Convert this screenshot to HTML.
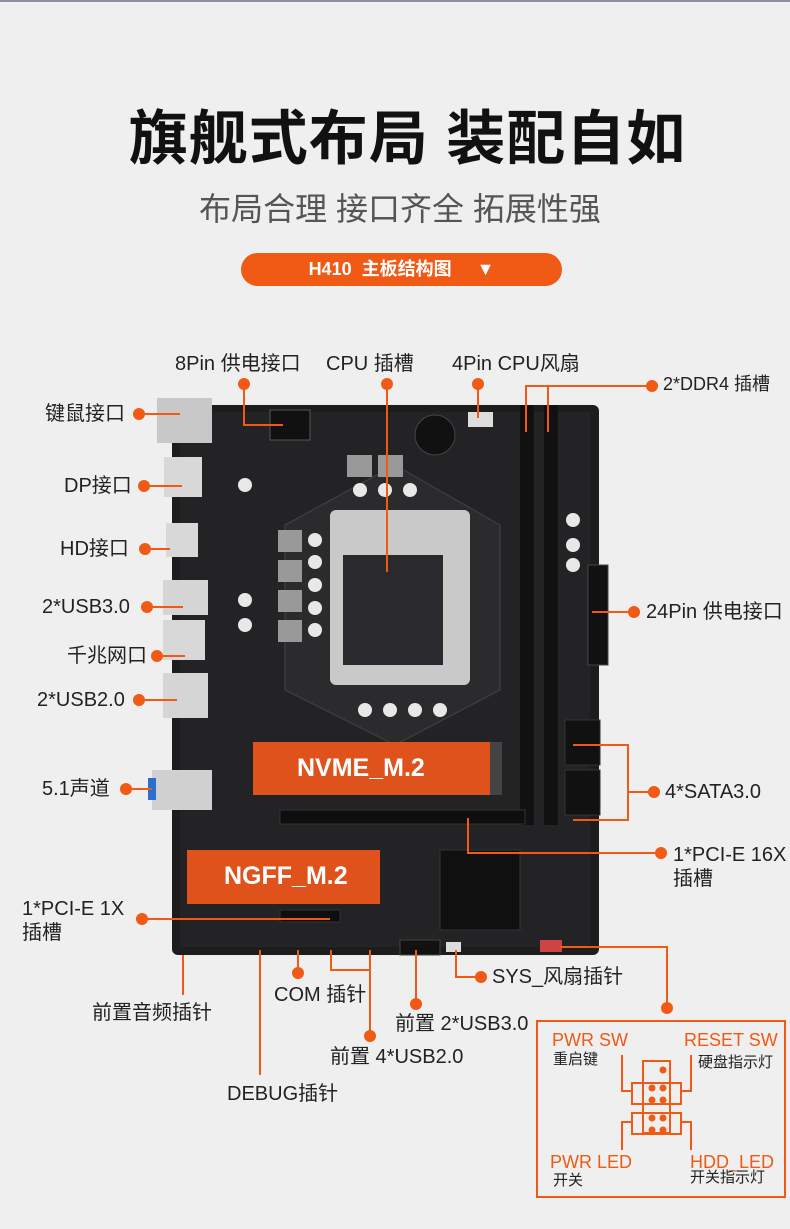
<!DOCTYPE html>
<html><head><meta charset="utf-8"><style>
body{margin:0;width:790px;height:1229px;background:#efefef;overflow:hidden;position:relative;font-family:"Liberation Sans","Noto Sans CJK SC",sans-serif}
.t{position:absolute;white-space:nowrap;color:#222;font-size:20px;line-height:1}
</style></head><body>
<div style="position:absolute;left:0;top:0;width:790px;height:2px;background:#8a90a0"></div>
<div class="t" style="left:0;width:815px;text-align:center;top:110px;font-size:59px;font-weight:bold;color:#111;letter-spacing:1px">旗舰式布局 装配自如</div>
<div class="t" style="left:0;width:800px;text-align:center;top:193px;font-size:32px;color:#555">布局合理 接口齐全 拓展性强</div>
<div style="position:absolute;left:241px;top:253px;width:321px;height:33px;border-radius:17px;background:#f05a14;color:#fff;font-size:18px;line-height:33px;text-align:center;font-weight:bold">H410&nbsp; 主板结构图 &nbsp;&nbsp;&nbsp;&nbsp;▼</div>

<svg width="790" height="1229" style="position:absolute;left:0;top:0">
<rect x="172" y="405" width="427" height="550" rx="6" fill="#1d1d1e"/>
<rect x="180" y="412" width="410" height="535" fill="#232325"/>
<polygon points="395,465 500,525 500,690 395,745 285,690 285,525" fill="#2b2b2d" stroke="#444" />
<rect x="157" y="398" width="55" height="45" fill="#c8c8c8"/>
<rect x="164" y="457" width="38" height="40" fill="#d8d8d8"/>
<rect x="166" y="523" width="32" height="34" fill="#d8d8d8"/>
<rect x="163" y="580" width="45" height="35" fill="#d5d5d5"/>
<rect x="163" y="620" width="42" height="40" fill="#d8d8d8"/>
<rect x="163" y="673" width="45" height="45" fill="#d5d5d5"/>
<rect x="152" y="770" width="60" height="40" fill="#d0d0d0"/>
<rect x="148" y="778" width="8" height="22" fill="#2a6fd0"/>
<rect x="270" y="410" width="40" height="30" fill="#111" stroke="#555"/>
<rect x="468" y="412" width="25" height="15" fill="#ddd"/>
<circle cx="435" cy="435" r="20" fill="#111" stroke="#444"/>
<rect x="347" y="455" width="25" height="22" fill="#999"/><rect x="378" y="455" width="25" height="22" fill="#999"/>
<rect x="278" y="530" width="24" height="22" fill="#999"/><rect x="278" y="560" width="24" height="22" fill="#999"/>
<rect x="278" y="590" width="24" height="22" fill="#999"/><rect x="278" y="620" width="24" height="22" fill="#999"/>
<g fill="#e8e8e8"><circle cx="315" cy="540" r="7"/><circle cx="315" cy="562" r="7"/><circle cx="315" cy="585" r="7"/><circle cx="315" cy="608" r="7"/><circle cx="315" cy="630" r="7"/><circle cx="360" cy="490" r="7"/><circle cx="385" cy="490" r="7"/><circle cx="410" cy="490" r="7"/><circle cx="365" cy="710" r="7"/><circle cx="390" cy="710" r="7"/><circle cx="415" cy="710" r="7"/><circle cx="440" cy="710" r="7"/><circle cx="573" cy="520" r="7"/><circle cx="573" cy="545" r="7"/><circle cx="573" cy="565" r="7"/><circle cx="245" cy="485" r="7"/><circle cx="245" cy="600" r="7"/><circle cx="245" cy="625" r="7"/></g>
<rect x="330" y="510" width="140" height="175" rx="6" fill="#c9c9c9"/>
<rect x="343" y="555" width="100" height="110" fill="#2a2a2e"/>
<rect x="520" y="405" width="14" height="420" fill="#111"/><rect x="544" y="405" width="14" height="420" fill="#111"/>
<rect x="588" y="565" width="20" height="100" fill="#111" stroke="#444"/>
<rect x="565" y="720" width="35" height="45" fill="#111" stroke="#333"/><rect x="565" y="770" width="35" height="45" fill="#111" stroke="#333"/>
<rect x="253" y="742" width="237" height="53" fill="#e0521c"/>
<rect x="490" y="742" width="12" height="53" fill="#444"/>
<rect x="280" y="810" width="245" height="14" fill="#0e0e0e" stroke="#333"/>
<rect x="187" y="850" width="193" height="54" fill="#e0521c"/>
<rect x="440" y="850" width="80" height="80" fill="#101010" stroke="#333"/>
<rect x="280" y="910" width="60" height="12" fill="#0e0e0e" stroke="#333"/>
<rect x="400" y="940" width="40" height="15" fill="#111" stroke="#444"/>
<rect x="446" y="942" width="15" height="10" fill="#ddd"/>
<rect x="540" y="940" width="22" height="12" fill="#c44"/>

<g stroke="#f05a14" stroke-width="2" fill="none">
<polyline points="244,384 244,425 283,425"/>
<line x1="387" y1="384" x2="387" y2="572"/>
<line x1="478" y1="384" x2="478" y2="418"/>
<polyline points="652,386 526,386 526,432"/><line x1="548" y1="386" x2="548" y2="432"/>
<line x1="139" y1="414" x2="180" y2="414"/>
<line x1="144" y1="486" x2="182" y2="486"/>
<line x1="145" y1="549" x2="170" y2="549"/>
<line x1="147" y1="607" x2="183" y2="607"/>
<line x1="157" y1="656" x2="185" y2="656"/>
<line x1="139" y1="700" x2="177" y2="700"/>
<line x1="126" y1="789" x2="152" y2="789"/>
<line x1="592" y1="612" x2="634" y2="612"/>
<polyline points="573,745 628,745 628,820 573,820"/><line x1="628" y1="792" x2="654" y2="792"/>
<polyline points="468,818 468,853 661,853"/>
<line x1="142" y1="919" x2="330" y2="919"/>
<line x1="183" y1="955" x2="183" y2="995"/>
<line x1="298" y1="950" x2="298" y2="973"/>
<line x1="260" y1="950" x2="260" y2="1075"/>
<polyline points="331,950 331,970 370,970"/><line x1="370" y1="950" x2="370" y2="1036"/>
<line x1="416" y1="950" x2="416" y2="1004"/>
<polyline points="456,950 456,977 481,977"/>
<polyline points="560,947 667,947 667,1008"/>
<rect x="537" y="1021" width="248" height="176"/>
<rect x="643" y="1061" width="27" height="72"/>
<rect x="632" y="1083" width="49" height="21"/>
<rect x="632" y="1113" width="49" height="21"/>
<polyline points="622,1055 622,1091 632,1091"/>
<polyline points="691,1055 691,1091 681,1091"/>
<polyline points="622,1150 622,1122 632,1122"/>
<polyline points="691,1150 691,1122 681,1122"/>
</g>
<g fill="#f05a14">
<circle cx="244" cy="384" r="6"/><circle cx="387" cy="384" r="6"/><circle cx="478" cy="384" r="6"/><circle cx="652" cy="386" r="6"/>
<circle cx="139" cy="414" r="6"/><circle cx="144" cy="486" r="6"/><circle cx="145" cy="549" r="6"/><circle cx="147" cy="607" r="6"/><circle cx="157" cy="656" r="6"/><circle cx="139" cy="700" r="6"/><circle cx="126" cy="789" r="6"/>
<circle cx="634" cy="612" r="6"/><circle cx="654" cy="792" r="6"/><circle cx="661" cy="853" r="6"/><circle cx="142" cy="919" r="6"/>
<circle cx="298" cy="973" r="6"/><circle cx="370" cy="1036" r="6"/><circle cx="416" cy="1004" r="6"/><circle cx="481" cy="977" r="6"/><circle cx="667" cy="1008" r="6"/>
<circle cx="663" cy="1070" r="3.5"/><circle cx="652" cy="1088" r="3.5"/><circle cx="663" cy="1088" r="3.5"/><circle cx="652" cy="1100" r="3.5"/><circle cx="663" cy="1100" r="3.5"/><circle cx="652" cy="1118" r="3.5"/><circle cx="663" cy="1118" r="3.5"/><circle cx="652" cy="1130" r="3.5"/><circle cx="663" cy="1130" r="3.5"/>
</g>
</svg>

<div class="t" style="left:297px;top:756px;font-size:25px;font-weight:bold;color:#fff">NVME_M.2</div>
<div class="t" style="left:224px;top:864px;font-size:25px;font-weight:bold;color:#fff">NGFF_M.2</div>

<div class="t" style="left:175px;top:354px">8Pin 供电接口</div>
<div class="t" style="left:326px;top:354px">CPU 插槽</div>
<div class="t" style="left:452px;top:354px">4Pin CPU风扇</div>
<div class="t" style="left:663px;top:375px;font-size:18px">2*DDR4 插槽</div>
<div class="t" style="left:45px;top:404px">键鼠接口</div>
<div class="t" style="left:64px;top:476px">DP接口</div>
<div class="t" style="left:60px;top:539px">HD接口</div>
<div class="t" style="left:42px;top:597px">2*USB3.0</div>
<div class="t" style="left:67px;top:646px">千兆网口</div>
<div class="t" style="left:37px;top:690px">2*USB2.0</div>
<div class="t" style="left:42px;top:779px">5.1声道</div>
<div class="t" style="left:646px;top:602px">24Pin 供电接口</div>
<div class="t" style="left:665px;top:782px">4*SATA3.0</div>
<div class="t" style="left:673px;top:843px;line-height:24px">1*PCI-E 16X<br>插槽</div>
<div class="t" style="left:22px;top:897px;line-height:24px">1*PCI-E 1X<br>插槽</div>
<div class="t" style="left:92px;top:1003px">前置音频插针</div>
<div class="t" style="left:274px;top:985px">COM 插针</div>
<div class="t" style="left:227px;top:1084px">DEBUG插针</div>
<div class="t" style="left:330px;top:1047px">前置 4*USB2.0</div>
<div class="t" style="left:395px;top:1014px">前置 2*USB3.0</div>
<div class="t" style="left:492px;top:967px">SYS_风扇插针</div>

<div class="t" style="left:552px;top:1031px;color:#f05a14;font-size:18px">PWR SW</div>
<div class="t" style="left:553px;top:1052px;font-size:15px">重启键</div>
<div class="t" style="left:684px;top:1031px;color:#f05a14;font-size:18px">RESET SW</div>
<div class="t" style="left:698px;top:1055px;font-size:15px">硬盘指示灯</div>
<div class="t" style="left:550px;top:1153px;color:#f05a14;font-size:18px">PWR LED</div>
<div class="t" style="left:553px;top:1173px;font-size:15px">开关</div>
<div class="t" style="left:690px;top:1153px;color:#f05a14;font-size:18px">HDD_LED</div>
<div class="t" style="left:690px;top:1170px;font-size:15px">开关指示灯</div>
</body></html>
